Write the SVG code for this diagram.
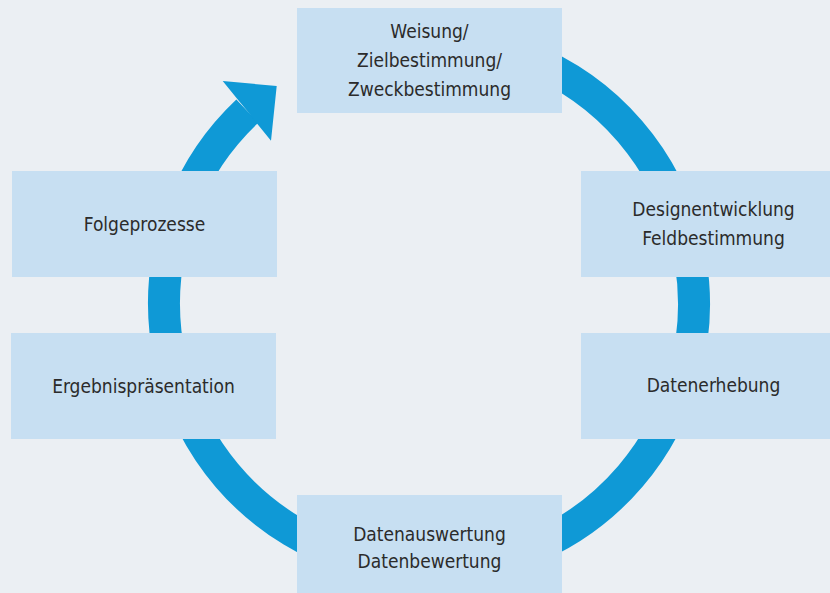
<svg xmlns="http://www.w3.org/2000/svg" width="830" height="593" viewBox="0 0 830 593">
<style>
.box{fill:#c7dff2}
.lbl{font-family:"DejaVu Sans Condensed","Liberation Sans",sans-serif;font-size:19px;fill:#2b2b2b;text-anchor:middle}
.ring{fill:none;stroke:#0f99d6;stroke-width:32}
</style>
<rect width="830" height="593" fill="#ebeff3"/>
<g id="connectors">
<path class="ring" d="M 429 39 A 265 265 0 1 1 247.3 111.1"/>
<polygon fill="#0f99d6" points="236.3,97.8 222.7,81 276.7,86 271,140.7 257.2,123.8 247.3,111.1"/>
</g>
<g id="n1"><rect class="box" x="297" y="8" width="265" height="105"/>
<text class="lbl" x="429.5" y="38">Weisung/</text>
<text class="lbl" x="429.5" y="67">Zielbestimmung/</text>
<text class="lbl" x="429.5" y="96">Zweckbestimmung</text></g>
<g id="n2"><rect class="box" x="581" y="171" width="265" height="106"/>
<text class="lbl" x="713.5" y="216">Designentwicklung</text>
<text class="lbl" x="713.5" y="245">Feldbestimmung</text></g>
<g id="n3"><rect class="box" x="581" y="333" width="265" height="106"/>
<text class="lbl" x="713.5" y="392">Datenerhebung</text></g>
<g id="n4"><rect class="box" x="297" y="495" width="265" height="106"/>
<text class="lbl" x="429.5" y="541">Datenauswertung</text>
<text class="lbl" x="429.5" y="568">Datenbewertung</text></g>
<g id="n5"><rect class="box" x="11" y="333" width="265" height="106"/>
<text class="lbl" x="143.5" y="392.5">Ergebnispräsentation</text></g>
<g id="n6"><rect class="box" x="12" y="171" width="265" height="106"/>
<text class="lbl" x="144.5" y="231">Folgeprozesse</text></g>
</svg>
